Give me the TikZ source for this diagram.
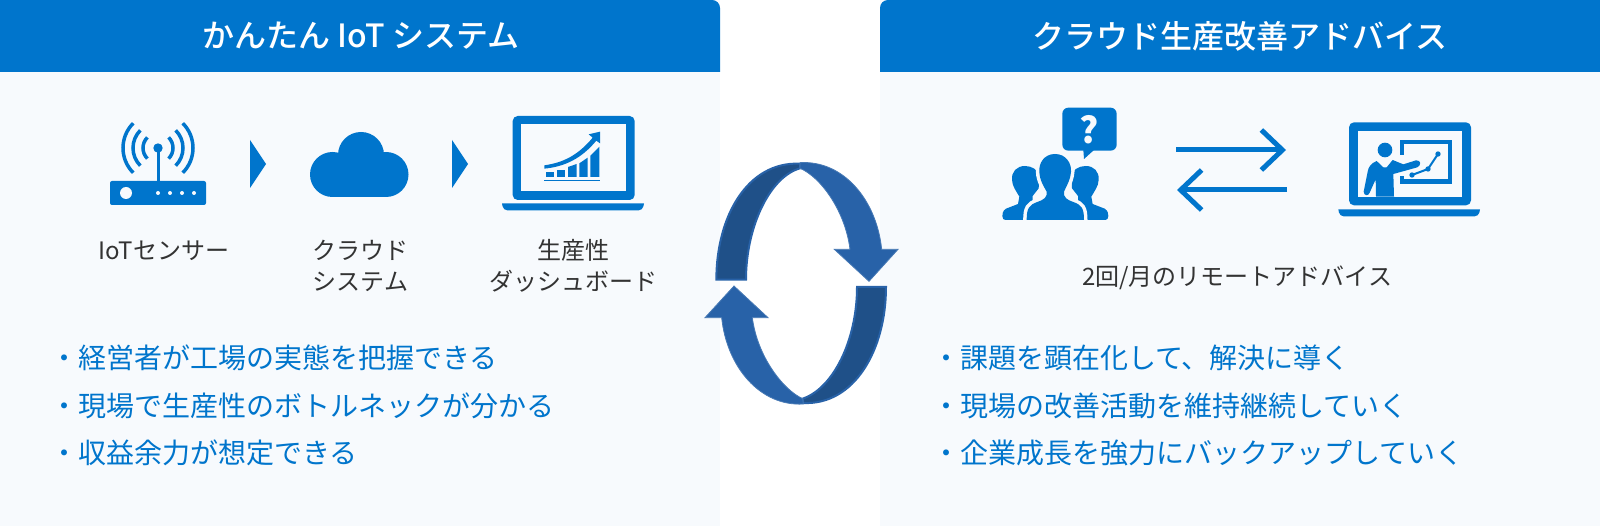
\documentclass[tikz,border=0pt]{standalone}
\usepackage{fontspec}
\newfontfamily\jp{Noto Sans CJK JP}
\newfontfamily\jpmed{Noto Sans CJK JP Medium}
\usetikzlibrary{arrows.meta}
\definecolor{headblue}{HTML}{0075CC}
\definecolor{panelblue}{HTML}{F7FAFD}
\definecolor{labelgray}{HTML}{333333}
\definecolor{loopblue}{HTML}{2862A8}
\definecolor{loopdark}{HTML}{1F5088}
\begin{document}
\begin{tikzpicture}[x=1pt,y=-1pt]
        \tikzstyle{title}=[text=white,inner sep=0pt,font=\jpmed\fontsize{32}{38}\selectfont]
        \tikzstyle{label}=[text=labelgray,inner sep=0pt,align=center,font=\jp\fontsize{24}{31}\selectfont]
        \tikzstyle{point}=[text=headblue,inner sep=0pt,anchor=west,font=\jp\fontsize{28}{34}\selectfont]
        \tikzstyle{flow}=[draw=headblue,line width=5pt,-{Straight Barb[length=21pt,width=40pt,line width=5pt]}]
        \tikzstyle{bar}=[fill=headblue]
        \tikzstyle{loopface}=[fill=loopblue,draw=loopblue!85!white,line width=0.8pt]
        \tikzstyle{loopback}=[fill=loopdark,draw=loopblue,line width=2pt]
        \useasboundingbox (0,0) rectangle (1600,526);
        % panels
        \fill[panelblue] (0,0) rectangle (720,526);
        \fill[panelblue] (880,0) rectangle (1600,526);
        \fill[headblue] (0,72) -- (0,0) [rounded corners=8pt] -- (720,0) [sharp corners] -- (720,72) -- cycle;
        \fill[headblue] (1600,72) -- (1600,0) [rounded corners=8pt] -- (880,0) [sharp corners] -- (880,72) -- cycle;
        \node [title] (lefttitle) at (361,36) {かんたん IoT システム};
        \node [title] (righttitle) at (1240,36) {クラウド生産改善アドバイス};
        % router
        \coordinate (ant) at (158,148);
        \fill[headblue,rounded corners=2pt] (110,181) rectangle (206,205);
        \fill[panelblue] (126,193) circle (6);
        \foreach \px in {158,170,182,194}
           \fill[panelblue] (\px,193) circle (2);
        \draw[headblue,line width=3pt] (ant) -- (158,181);
        \fill[headblue] (ant) circle (4.7);
        \foreach \rad in {15,25,35} {
           \draw[headblue,line width=3.5pt] ([shift={(-45:\rad)}]ant) arc[start angle=-45,end angle=45,radius=\rad];
           \draw[headblue,line width=3.5pt] ([shift={(135:\rad)}]ant) arc[start angle=135,end angle=225,radius=\rad];
        }
        % steps
        \fill[headblue] (250,140) -- (266,164) -- (250,188) -- cycle;
        \fill[headblue] (452,140) -- (468,164) -- (452,188) -- cycle;
        % cloud
        \fill[headblue] (332.5,174.5) circle (22.5);
        \fill[headblue] (386,174.5) circle (22.5);
        \fill[headblue] (361,155) circle (23);
        \fill[headblue] (332.5,160) rectangle (386,197);
        % dashboard laptop
        \begin{scope}[shift={(480,105)},scale=1/3]
           \fill[headblue,rounded corners=5pt] (98,33) rectangle (464,285);
           \fill[panelblue] (123,58) rectangle (438,258);
           \fill[headblue] (66,295) -- (492,295) [rounded corners=4pt] -- (488,316) -- (70,316) [sharp corners] -- cycle;
           \fill[bar] (197,200) rectangle (222,216);
           \fill[bar] (230,195) rectangle (255,216);
           \fill[bar] (264,186) -- (290,177) -- (290,216) -- (264,216) -- cycle;
           \fill[bar] (298,175) -- (323,158) -- (323,216) -- (298,216) -- cycle;
           \fill[bar] (331,152) -- (358,125) -- (358,216) -- (331,216) -- cycle;
           \fill[bar] (193,225) rectangle (360,227.5);
           \fill[bar] (193,181) .. controls (250,173) and (295,150) .. (338,98) -- (326,88) -- (360,80) -- (360,115) -- (349,107) .. controls (305,160) and (255,185) .. (193,191) -- cycle;
        \end{scope}
        \node [label] (sensor) at (164,250.5) {IoTセンサー};
        \node [label] (cloudsys) at (360.5,266) {クラウド\\システム};
        \node [label] (board) at (573,266) {生産性\\ダッシュボード};
        \node [point] (p1) at (50,357.8) {・経営者が工場の実態を把握できる};
        \node [point] (p2) at (50,405.8) {・現場で生産性のボトルネックが分かる};
        \node [point] (p3) at (50,452.8) {・収益余力が想定できる};
        % cycle
        \begin{scope}[shift={(670,140)},scale=1/3]
           \path[loopback] (139,419) .. controls (139,230) and (232,64) .. (390,71) -- (390,85) .. controls (300,110) and (228,260) .. (228,419) -- cycle;
           \path[loopface] (390,68) .. controls (520,60) and (620,180) .. (635,328) -- (684,328) -- (597,424) -- (493,328) -- (540,328) .. controls (525,210) and (450,110) .. (390,85) -- cycle;
           \path[loopback] (648,441) .. controls (648,630) and (553,796) .. (400,789) -- (398,776) .. controls (490,745) and (561,600) .. (561,441) -- cycle;
           \path[loopface] (400,792) .. controls (270,800) and (170,680) .. (155,533) -- (105,533) -- (192,438) -- (294,533) -- (247,533) .. controls (262,650) and (340,750) .. (398,776) -- cycle;
        \end{scope}
        % people and question
        \begin{scope}[shift={(960,90)},scale=1/3]
           \fill[headblue,rounded corners=6pt] (307,53) rectangle (470,182);
           \fill[headblue] (370,180) -- (372,207) -- (402,180) -- cycle;
           \foreach \fx in {1,-1} {
              \begin{scope}[shift={(286,0)},xscale=\fx]
                 \fill[headblue] (-91,228) .. controls (-116,228) and (-132,245) .. (-130,270) .. controls (-129,290) and (-116,305) .. (-108,320) -- (-112,342) -- (-148,356) .. controls (-158,362) and (-159,372) .. (-159,378) .. controls (-159,386) and (-155,390) .. (-150,390) -- (-90,390) -- (-68,335) -- (-68,318) -- (-50,295) -- (-48,260) .. controls (-50,240) and (-70,228) .. (-91,228) -- cycle;
              \end{scope}
           }
           \path[preaction={draw=panelblue,line width=7pt},fill=headblue] (285,192) .. controls (318,192) and (335,220) .. (333,245) .. controls (331,272) and (318,290) .. (312,305) .. controls (309,322) and (322,330) .. (340,336) .. controls (365,345) and (372,355) .. (372,390) -- (200,390) .. controls (200,355) and (207,345) .. (232,336) .. controls (250,330) and (263,322) .. (260,305) .. controls (252,290) and (239,272) .. (238,245) .. controls (236,220) and (252,192) .. (285,192) -- cycle;
        \end{scope}
        \node [text=panelblue,inner sep=0pt,font=\jp\bfseries\fontsize{36}{36}\selectfont] (ask) at (1089,130) {?};
        % exchange
        \coordinate (fwdstart) at (1176,150);
        \coordinate (fwdend) at (1286,150);
        \coordinate (backstart) at (1287,190);
        \coordinate (backend) at (1177,190);
        \draw[flow] (fwdstart) -- (fwdend);
        \draw[flow] (backstart) -- (backend);
        % advisor laptop
        \begin{scope}[shift={(960,90)},scale=1/3]
           \fill[headblue,rounded corners=5pt] (1167,97) rectangle (1533,346);
           \fill[panelblue] (1193,122) rectangle (1506,320);
           \fill[headblue] (1135,358) -- (1560,358) [rounded corners=4pt] -- (1556,379) -- (1139,379) [sharp corners] -- cycle;
           \draw[headblue,line width=4.5pt] (1326,195) -- (1326,156) -- (1470,156) -- (1470,274) -- (1326,274) -- (1326,258);
           \fill[headblue] (1275,180) circle (22);
           \fill[headblue] (1250,213) .. controls (1232,220) and (1225,232) .. (1223,245) -- (1211,305) .. controls (1211,317) and (1225,320) .. (1229,308) -- (1247,268) -- (1248,320) -- (1302,320) -- (1300,252) -- (1372,232) .. controls (1384,226) and (1384,210) .. (1368,211) -- (1330,223) -- (1298,210) -- (1280,232) -- (1270,232) -- cycle;
           \fill[panelblue] (1271,212) rectangle (1280,220);
           \draw[headblue,line width=2pt] (1356,255) -- (1404,237) -- (1434,192);
           \foreach \px/\py in {1356/255,1404/237,1434/192}
              \fill[headblue] (\px,\py) circle (8);
        \end{scope}
        \node [label] (remote) at (1237,278) {2回/月のリモートアドバイス};
        \node [point] (q1) at (932,357.8) {・課題を顕在化して、解決に導く};
        \node [point] (q2) at (932,405.8) {・現場の改善活動を維持継続していく};
        \node [point] (q3) at (932,452.8) {・企業成長を強力にバックアップしていく};
\end{tikzpicture}
\end{document}
